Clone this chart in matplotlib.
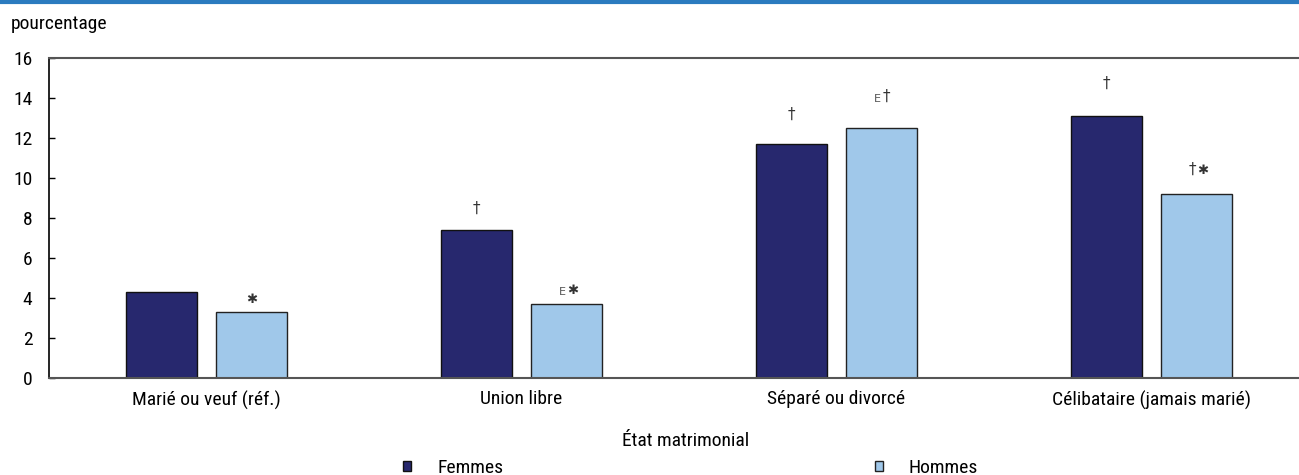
import matplotlib
matplotlib.use("Agg")
import matplotlib.pyplot as plt
from matplotlib import font_manager
import numpy as np

categories = ["Marié ou veuf (réf.)", "Union libre", "Séparé ou divorcé", "Célibataire (jamais marié)"]
femmes = [4.3, 7.4, 11.7, 13.1]
hommes = [3.3, 3.7, 12.5, 9.2]
femmes_notes = ["", "†", "†", "†"]
hommes_notes = ["✱", "E✱", "E†", "†✱"]
yticks = [0, 2, 4, 6, 8, 10, 12, 14, 16]

names = {f.name for f in font_manager.fontManager.ttflist}
fam = ["Liberation Sans"]
for cand in ["Roboto Condensed", "Liberation Sans Narrow", "Open Sans Condensed", "Arial Narrow", "Nimbus Sans Narrow"]:
    if cand in names:
        fam = [cand]
        break
plt.rcParams['font.family'] = fam + ["DejaVu Sans"]
FS = 14

fig = plt.figure(figsize=(12.99, 4.75), dpi=100)
W, H = 1299, 475
ax = fig.add_axes([49 / W, 1 - 378 / H, 1260 / W, 320 / H])

x = np.arange(len(categories))
bw = 0.225
off = 0.143
c_f = "#27286e"
c_h = "#a0c8ea"
b1 = ax.bar(x - off, femmes, bw, color=c_f, edgecolor="#111111", linewidth=1.0, label="Femmes")
b2 = ax.bar(x + off, hommes, bw, color=c_h, edgecolor="#222222", linewidth=1.0, label="Hommes")


def sz(ch):
    return {"†": 11, "E": 8, "✱": 9.5}.get(ch, 10)


def note(xc, v, t):
    y = v * 1.095
    kw = dict(va="bottom", family=["DejaVu Sans"], textcoords="offset points")
    if len(t) == 1:
        ax.annotate(t, (xc, y), xytext=(0, 0), ha="center", fontsize=sz(t),
                    color="#333333", **kw)
    else:
        a, b = t[0], t[1:]
        ax.annotate(a, (xc, y), xytext=(-0.5, 0), ha="right", fontsize=sz(a),
                    color="#555555" if a == "E" else "#333333", **kw)
        ax.annotate(b, (xc, y), xytext=(0.5, 0), ha="left", fontsize=sz(b),
                    color="#333333", **kw)


for xi, v, t in zip(x, femmes, femmes_notes):
    if t:
        note(xi - off, v, t)
for xi, v, t in zip(x, hommes, hommes_notes):
    if t:
        note(xi + off, v, t)

ax.set_xlim(-0.5, 3.5)
ax.set_ylim(0, 16)
ax.set_yticks(yticks)
ax.set_xticks(x)
ax.set_xticklabels(categories, fontsize=FS)
ax.tick_params(axis="y", direction="in", length=4, width=1, labelsize=FS, pad=12, colors="#000000")
ax.tick_params(axis="x", length=0, pad=9, labelsize=FS)
ax.spines["left"].set_color("#000000")
ax.spines["left"].set_linewidth(1.2)
ax.spines["top"].set_color("#555555")
ax.spines["top"].set_linewidth(1.5)
ax.spines["bottom"].set_color("#555555")
ax.spines["bottom"].set_linewidth(1.5)
ax.spines["right"].set_visible(False)

fig.text(11 / W, 1 - 24 / H, "pourcentage", fontsize=FS, va="center", ha="left")
fig.text(686 / W, 1 - 441 / H, "État matrimonial", fontsize=FS, va="center", ha="center")

# top blue rule
fig.add_artist(plt.Line2D([0, 1], [1 - 1.5 / H, 1 - 1.5 / H], color="#2b7bbf", linewidth=3,
                          transform=fig.transFigure))

leg = fig.legend(handles=[b1, b2], labels=["Femmes", "Hommes"], loc="center left",
                 bbox_to_anchor=(403 / W, 1 - 468 / H), ncol=2, frameon=False,
                 fontsize=FS, handlelength=0.42, handleheight=0.42, handletextpad=1.34,
                 columnspacing=19.1, borderpad=0, borderaxespad=0)

fig.savefig("out.png", dpi=100)
